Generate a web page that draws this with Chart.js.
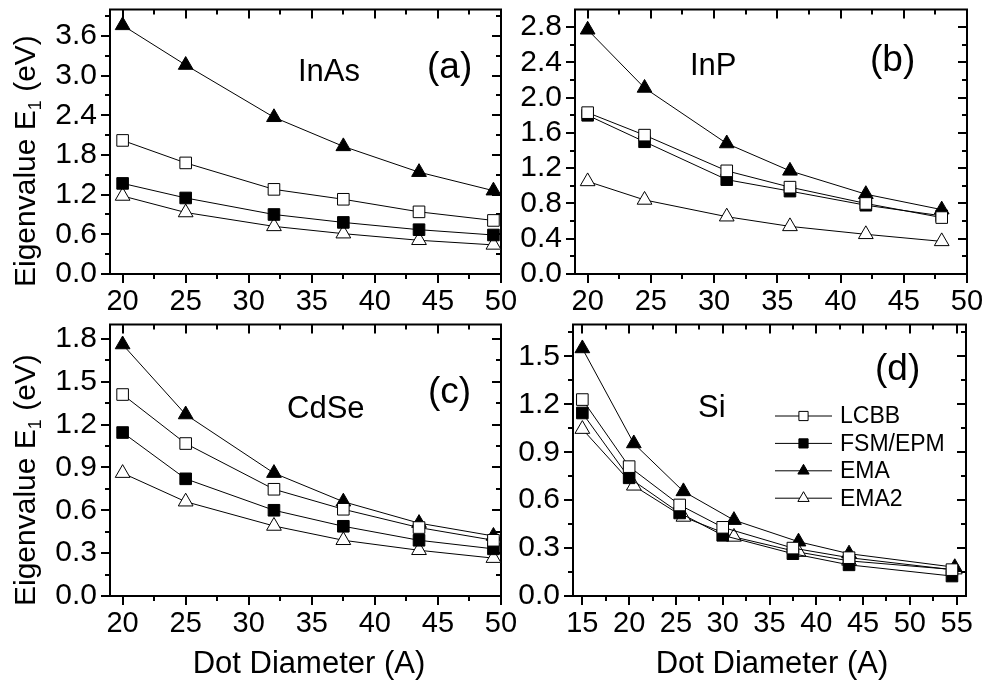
<!DOCTYPE html>
<html>
<head>
<meta charset="utf-8">
<title>Eigenvalue E1 vs dot diameter</title>
<script src="https://cdn.jsdelivr.net/npm/chart.js@4.4.0/dist/chart.umd.min.js"></script>
<style>
  body { margin: 0; background: #fff; }
  #wrap { position: relative; width: 995px; height: 687px; overflow: hidden; background: #fff; }
  #wrap canvas { position: absolute; }
</style>
</head>
<body>
<div id="wrap">
  <canvas id="chartA" width="530" height="330" style="left:0px;top:0px"></canvas>
  <canvas id="chartB" width="515" height="330" style="left:480px;top:0px"></canvas>
  <canvas id="chartC" width="530" height="372" style="left:0px;top:315px"></canvas>
  <canvas id="chartD" width="515" height="372" style="left:480px;top:315px"></canvas>
</div>
<script>
// ---- data ----
const seriesNames = ['LCBB', 'FSM/EPM', 'EMA', 'EMA2'];

// (a) InAs
const inasX = [20, 25, 32, 37.5, 43.5, 49.4];
const inasLCBB = [2.02, 1.68, 1.28, 1.13, 0.94, 0.81];
const inasFSM = [1.37, 1.15, 0.90, 0.78, 0.67, 0.59];
const inasEMA = [3.76, 3.16, 2.37, 1.93, 1.54, 1.26];
const inasEMA2 = [1.18, 0.93, 0.72, 0.61, 0.51, 0.44];

// (b) InP
const inpX = [20, 24.5, 31, 36, 42, 48];
const inpLCBB = [1.83, 1.575, 1.17, 0.985, 0.80, 0.64];
const inpFSM = [1.80, 1.50, 1.07, 0.94, 0.78, 0.66];
const inpEMA = [2.77, 2.11, 1.48, 1.17, 0.905, 0.73];
const inpEMA2 = [1.05, 0.84, 0.65, 0.54, 0.45, 0.37];

// (c) CdSe
const cdseX = [20, 25, 32, 37.5, 43.5, 49.4];
const cdseLCBB = [1.41, 1.067, 0.747, 0.607, 0.479, 0.39];
const cdseFSM = [1.144, 0.82, 0.60, 0.488, 0.39, 0.33];
const cdseEMA = [1.76, 1.27, 0.86, 0.66, 0.51, 0.42];
const cdseEMA2 = [0.86, 0.66, 0.49, 0.39, 0.32, 0.265];

// (d) Si  (EMA curves sit at slightly larger diameters)
const siX = [15, 20, 25.4, 30, 37.5, 43.5, 54.5];
const siXema = [15, 20.5, 25.8, 31.2, 38.1, 43.5, 54.8];
const siLCBB = [1.23, 0.81, 0.57, 0.43, 0.30, 0.24, 0.165];
const siFSM = [1.146, 0.74, 0.52, 0.38, 0.265, 0.195, 0.125];
const siEMA = [1.55, 0.955, 0.655, 0.475, 0.34, 0.265, 0.18];
const siEMA2 = [1.045, 0.69, 0.495, 0.37, 0.275, 0.22, 0.165];

// tick values
const xTicks2050 = [20, 25, 30, 35, 40, 45, 50];
const xMinor2050 = [22.5, 27.5, 32.5, 37.5, 42.5, 47.5];
const xTicksSi = [15, 20, 25, 30, 35, 40, 45, 50, 55];
const xMinorSi = [17.5, 22.5, 27.5, 32.5, 37.5, 42.5, 47.5, 52.5];
const yTicksA = [0, 0.6, 1.2, 1.8, 2.4, 3.0, 3.6];
const yMinorA = [0.3, 0.9, 1.5, 2.1, 2.7, 3.3, 3.9];
const yTicksB = [0, 0.4, 0.8, 1.2, 1.6, 2.0, 2.4, 2.8];
const yMinorB = [0.2, 0.6, 1.0, 1.4, 1.8, 2.2, 2.6];
const yTicksC = [0, 0.3, 0.6, 0.9, 1.2, 1.5, 1.8];
const yMinorC = [0.15, 0.45, 0.75, 1.05, 1.35, 1.65];
const yTicksD = [0, 0.3, 0.6, 0.9, 1.2, 1.5];
const yMinorD = [0.15, 0.45, 0.75, 1.05, 1.35, 1.65];

Chart.defaults.font.family = '"Liberation Sans", Arial, sans-serif';
Chart.defaults.color = '#000';

const styles = [
    { pointStyle: 'rect', pointRadius: 8.2, pointBackgroundColor: '#fff' },
    { pointStyle: 'rect', pointRadius: 8.2, pointBackgroundColor: '#000' },
    { pointStyle: 'triangle', pointRadius: 8.5, pointBackgroundColor: '#000' },
    { pointStyle: 'triangle', pointRadius: 8.5, pointBackgroundColor: '#fff' },
];

function pts(xs, ys) {
    return xs.map((x, i) => ({ x: x, y: ys[i] }));
}

function makeDatasets(xList, yList) {
    return yList.map((ys, i) => Object.assign({
        label: seriesNames[i],
        data: pts(xList[i], ys),
        borderColor: '#000',
        borderWidth: 1,
        pointBorderColor: '#000',
        pointBorderWidth: 1,
        pointHoverRadius: 8,
        tension: 0,
        clip: false,
    }, styles[i]));
}

// frame with ticks on four sides: bottom/left outward, top/right inward
const frameTicks = {
    id: 'frameTicks',
    beforeDatasetsDraw(chart, args, opts) {
        const { ctx, chartArea: a } = chart;
        const x = chart.scales.x, y = chart.scales.y;
        ctx.save();
        ctx.strokeStyle = '#000';
        ctx.lineWidth = 2;
        ctx.beginPath();
        const xt = (vals, len) => vals.forEach(v => {
            const p = Math.round(x.getPixelForValue(v));
            ctx.moveTo(p, a.bottom); ctx.lineTo(p, a.bottom + len);
            ctx.moveTo(p, a.top); ctx.lineTo(p, a.top + len);
        });
        const yt = (vals, len) => vals.forEach(v => {
            const p = Math.round(y.getPixelForValue(v));
            ctx.moveTo(a.left - len, p); ctx.lineTo(a.left, p);
            ctx.moveTo(a.right - len, p); ctx.lineTo(a.right, p);
        });
        xt(opts.xMajor, 9); xt(opts.xMinor, 5);
        yt(opts.yMajor, 9); yt(opts.yMinor, 5);
        ctx.stroke();
        ctx.strokeRect(a.left, a.top, a.right - a.left, a.bottom - a.top);
        ctx.restore();
    }
};

// free text: panel names, letters, axis titles
const notes = {
    id: 'notes',
    afterDraw(chart, args, opts) {
        const ctx = chart.ctx;
        const fam = Chart.defaults.font.family;
        ctx.save();
        ctx.fillStyle = '#000';
        ctx.textBaseline = 'alphabetic';
        (opts.items || []).forEach(t => {
            ctx.font = t.size + 'px ' + fam;
            ctx.textAlign = t.align || 'left';
            ctx.fillText(t.text, t.x, t.y);
        });
        if (opts.yTitle) {
            const yt = opts.yTitle;
            ctx.translate(yt.x, yt.y);
            ctx.rotate(-Math.PI / 2);
            ctx.textAlign = 'left';
            ctx.font = yt.size + 'px ' + fam;
            ctx.fillText('Eigenvalue E', 0, 0);
            let w = ctx.measureText('Eigenvalue E').width;
            ctx.font = Math.round(yt.size * 0.6) + 'px ' + fam;
            ctx.fillText('1', w, 6);
            w += ctx.measureText('1').width;
            ctx.font = yt.size + 'px ' + fam;
            ctx.fillText(' (eV)', w, 0);
        }
        ctx.restore();
    }
};

// legend drawn with line + marker, using the dataset styles
const lineLegend = {
    id: 'lineLegend',
    afterDatasetsDraw(chart, args, opts) {
        if (!opts.show) return;
        const ctx = chart.ctx;
        ctx.save();
        chart.data.datasets.forEach((ds, i) => {
            const yy = opts.y + i * opts.step;
            ctx.strokeStyle = '#000';
            ctx.lineWidth = 1;
            ctx.beginPath();
            ctx.moveTo(opts.x1, yy); ctx.lineTo(opts.x2, yy);
            ctx.stroke();
            ctx.fillStyle = ds.pointBackgroundColor;
            ctx.strokeStyle = '#000';
            Chart.helpers.drawPoint(ctx, {
                pointStyle: ds.pointStyle,
                radius: 6.5,
                borderWidth: 1,
                rotation: 0
            }, (opts.x1 + opts.x2) / 2, yy);
            ctx.fillStyle = '#000';
            ctx.font = opts.size + 'px ' + Chart.defaults.font.family;
            ctx.textAlign = 'left';
            ctx.textBaseline = 'middle';
            ctx.fillText(ds.label, opts.x2 + 8, yy + 1);
        });
        ctx.restore();
    }
};

function makeChart(id, cfg) {
    const ctx = document.getElementById(id).getContext('2d');
    return new Chart(ctx, {
        type: 'line',
        data: { datasets: makeDatasets(cfg.xs, cfg.ys) },
        options: {
            responsive: false,
            animation: false,
            events: [],
            layout: { padding: cfg.padding },
            plugins: {
                legend: { display: false },
                tooltip: { enabled: false },
                frameTicks: { xMajor: cfg.xMajor, xMinor: cfg.xMinor, yMajor: cfg.yMajor, yMinor: cfg.yMinor },
                notes: { items: cfg.notes, yTitle: cfg.yTitle },
                lineLegend: cfg.legend || { show: false },
            },
            scales: {
                x: {
                    type: 'linear',
                    min: cfg.xMin, max: cfg.xMax,
                    grid: { display: false, drawTicks: false },
                    border: { display: false },
                    ticks: {
                        font: { size: 29 },
                        padding: 11,
                        autoSkip: false,
                        maxRotation: 0,
                        callback: v => String(v),
                    },
                    afterBuildTicks: s => { s.ticks = cfg.xMajor.map(v => ({ value: v })); },
                    afterFit: s => { s.height = cfg.xHeight; s.paddingLeft = 0; s.paddingRight = 0; },
                },
                y: {
                    type: 'linear',
                    min: 0, max: cfg.yMax,
                    grid: { display: false, drawTicks: false },
                    border: { display: false },
                    ticks: {
                        font: { size: 30 },
                        padding: 13,
                        autoSkip: false,
                        callback: v => v.toFixed(1),
                    },
                    afterBuildTicks: s => { s.ticks = cfg.yMajor.map(v => ({ value: v })); },
                    afterFit: s => { s.width = cfg.yWidth; s.paddingTop = 0; s.paddingBottom = 0; },
                },
            },
        },
        plugins: [frameTicks, notes, lineLegend],
    });
}

makeChart('chartA', {
    xs: [inasX, inasX, inasX, inasX],
    ys: [inasLCBB, inasFSM, inasEMA, inasEMA2],
    xMin: 19, xMax: 50, yMax: 4.0,
    xMajor: xTicks2050, xMinor: xMinor2050, yMajor: yTicksA, yMinor: yMinorA,
    padding: { left: 0, top: 1, right: 29, bottom: 0 },
    yWidth: 110, xHeight: 56,
    notes: [
        { text: 'InAs', x: 298, y: 81, size: 31 },
        { text: '(a)', x: 427, y: 78, size: 37 },
    ],
    yTitle: { x: 35, y: 287, size: 30 },
});

makeChart('chartB', {
    xs: [inpX, inpX, inpX, inpX],
    ys: [inpLCBB, inpFSM, inpEMA, inpEMA2],
    xMin: 19, xMax: 50, yMax: 3.0,
    xMajor: xTicks2050, xMinor: xMinor2050, yMajor: yTicksB, yMinor: yMinorB,
    padding: { left: 0, top: 1, right: 28, bottom: 0 },
    yWidth: 95, xHeight: 56,
    notes: [
        { text: 'InP', x: 210, y: 75, size: 31 },
        { text: '(b)', x: 390, y: 71, size: 37 },
    ],
});

makeChart('chartC', {
    xs: [cdseX, cdseX, cdseX, cdseX],
    ys: [cdseLCBB, cdseFSM, cdseEMA, cdseEMA2],
    xMin: 19, xMax: 50, yMax: 1.9,
    xMajor: xTicks2050, xMinor: xMinor2050, yMajor: yTicksC, yMinor: yMinorC,
    padding: { left: 0, top: 8, right: 29, bottom: 0 },
    yWidth: 110, xHeight: 91,
    notes: [
        { text: 'CdSe', x: 287, y: 103, size: 31 },
        { text: '(c)', x: 428, y: 88, size: 37 },
        { text: 'Dot Diameter (A)', x: 309, y: 358, size: 31, align: 'center' },
    ],
    yTitle: { x: 35, y: 291, size: 30 },
});

makeChart('chartD', {
    xs: [siX, siX, siXema, siXema],
    ys: [siLCBB, siFSM, siEMA, siEMA2],
    xMin: 14, xMax: 56, yMax: 1.7,
    xMajor: xTicksSi, xMinor: xMinorSi, yMajor: yTicksD, yMinor: yMinorD,
    padding: { left: 0, top: 8, right: 29, bottom: 0 },
    yWidth: 93, xHeight: 91,
    notes: [
        { text: 'Si', x: 218, y: 102, size: 31 },
        { text: '(d)', x: 395, y: 65, size: 37 },
        { text: 'Dot Diameter (A)', x: 292, y: 358, size: 31, align: 'center' },
    ],
    legend: { show: true, x1: 295, x2: 352, y: 101, step: 27.4, size: 23 },
});
</script>
</body>
</html>
